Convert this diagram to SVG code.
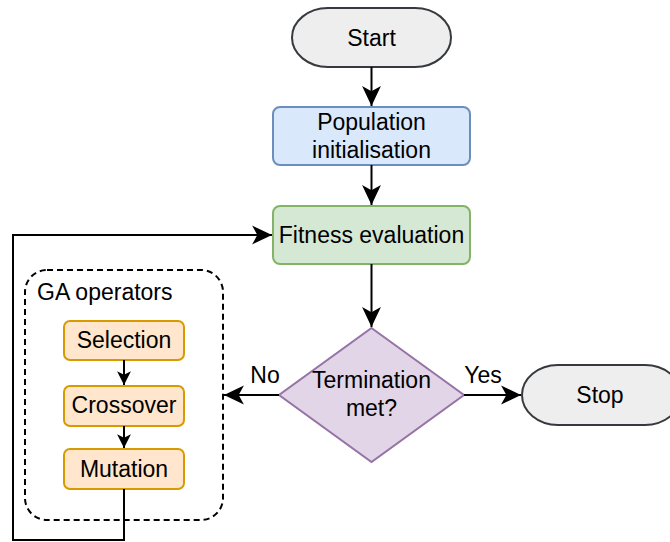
<svg xmlns="http://www.w3.org/2000/svg" width="670" height="542" viewBox="0 0 670 542">
  <defs>
    <marker id="arrow" markerUnits="userSpaceOnUse" markerWidth="22" markerHeight="22" viewBox="-20 -10 21 20" refX="0" refY="0" orient="auto">
      <path d="M0,0 L-19,-9 L-14,0 L-19,9 Z" fill="#000"/>
    </marker>
    <marker id="arrow-sm" markerUnits="userSpaceOnUse" markerWidth="16" markerHeight="16" viewBox="-14 -7 15 14" refX="0" refY="0" orient="auto">
      <path d="M0,0 L-13,-6.5 L-9.5,0 L-13,6.5 Z" fill="#000"/>
    </marker>
  </defs>
  <style>
    text { font-family: "Liberation Sans", Arial, sans-serif; font-size: 23px; fill: #000; }
    .c { text-anchor: middle; }
    .term { fill: #eeeeee; stroke: #36393d; stroke-width: 2; }
    .blue { fill: #dae8fc; stroke: #6c8ebf; stroke-width: 2; }
    .green { fill: #d5e8d4; stroke: #82b366; stroke-width: 2; }
    .purple { fill: #e1d5e7; stroke: #9673a6; stroke-width: 2; }
    .orange { fill: #ffe6cc; stroke: #d79b00; stroke-width: 2; }
    .group { fill: none; stroke: #000; stroke-width: 2; stroke-dasharray: 6 4; }
    .edge { fill: none; stroke: #000; stroke-width: 2; }
  </style>

  <rect width="670" height="542" fill="#ffffff"/>

  <!-- GA operators container -->
  <g id="ga-operators">
    <rect class="group" x="25" y="270" width="198" height="250" rx="22" ry="22"/>
    <text x="37" y="300">GA operators</text>
  </g>

  <g id="start">
    <rect class="term" x="292" y="8" width="159" height="59" rx="36" ry="29.5"/>
    <text class="c" x="371.5" y="46">Start</text>
  </g>

  <g id="population">
    <rect class="blue" x="273" y="107" width="197" height="58" rx="7"/>
    <text class="c" x="371.5" y="130">Population</text>
    <text class="c" x="371.5" y="158">initialisation</text>
  </g>

  <g id="fitness">
    <rect class="green" x="273" y="206" width="197" height="58" rx="7"/>
    <text class="c" x="371.5" y="243">Fitness evaluation</text>
  </g>

  <g id="termination">
    <polygon class="purple" points="371.5,328 464,395 371.5,462 279,395"/>
    <text class="c" x="371.5" y="388">Termination</text>
    <text class="c" x="371.5" y="416">met?</text>
  </g>

  <g id="stop">
    <rect class="term" x="522" y="365" width="159" height="60" rx="36" ry="30"/>
    <text class="c" x="600" y="403">Stop</text>
  </g>

  <g id="selection">
    <rect class="orange" x="64" y="321" width="120" height="39" rx="6"/>
    <text class="c" x="124" y="348">Selection</text>
  </g>

  <g id="crossover">
    <rect class="orange" x="64" y="386" width="120" height="40" rx="6"/>
    <text class="c" x="124" y="413">Crossover</text>
  </g>

  <g id="mutation">
    <rect class="orange" x="64" y="449" width="120" height="40" rx="6"/>
    <text class="c" x="124" y="477">Mutation</text>
  </g>

  <!-- connectors -->
  <g id="connectors">
    <path class="edge" d="M371.5,67 V106" marker-end="url(#arrow)"/>
    <path class="edge" d="M371.5,165 V205" marker-end="url(#arrow)"/>
    <path class="edge" d="M371.5,264 V327" marker-end="url(#arrow)"/>
    <path class="edge" d="M464,395 H521" marker-end="url(#arrow)"/>
    <path class="edge" d="M279,395 H224" marker-end="url(#arrow)"/>
    <path class="edge" d="M124,360 V385" stroke-width="1.5" marker-end="url(#arrow-sm)"/>
    <path class="edge" d="M124,426 V448" stroke-width="1.5" marker-end="url(#arrow-sm)"/>
    <path class="edge" d="M124,489 V540 H13 V235 H272" marker-end="url(#arrow)"/>
    <text class="c" x="265" y="383">No</text>
    <text class="c" x="483" y="383">Yes</text>
  </g>
</svg>
